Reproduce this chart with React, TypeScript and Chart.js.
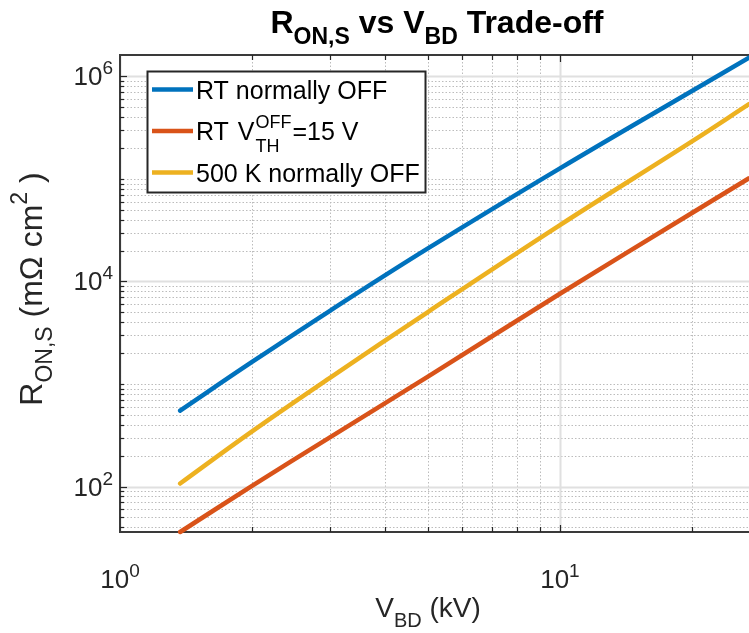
import { useEffect, useRef } from "react";
import { Chart, registerables } from "chart.js";

Chart.register(...registerables);

// Breakdown voltage (kV)
const vbd = [1.37, 2, 3, 5, 10, 20, 26.9];
// Specific on-resistance (mOhm cm^2)
const rtNormallyOff = [550, 1650, 5180, 20900, 127000, 726000, 1524000];
const rtVth15 = [36, 102, 302, 1175, 7590, 46800, 101600];
const hot500K = [107, 347, 1148, 5010, 35500, 234000, 537000];

const seriesColors = ["#0072BD", "#D95319", "#EDB120"];

// Axis limits
const xMin = 1;
const xMax = 26.9;
const yMin = 36;
const yMax = 1.62e6;

// Labelled decades: 10^exp
const xTickExps = [0, 1];
const yTickExps = [2, 4, 6];

const FONT = '"Liberation Sans", Arial, Helvetica, sans-serif';

type Seg = { t: string; s: number; dy?: number; sub?: string; subDy?: number; gap?: number };

function segWidth(ctx: CanvasRenderingContext2D, seg: Seg, weight: string) {
  ctx.font = `${weight} ${seg.s}px ${FONT}`;
  let w = ctx.measureText(seg.t).width;
  if (seg.sub) w = Math.max(w, ctx.measureText(seg.sub).width);
  return w + (seg.gap || 0);
}

function drawRich(
  ctx: CanvasRenderingContext2D,
  segs: Seg[],
  x: number,
  y: number,
  align: "left" | "center" | "right",
  weight: string,
  color: string
) {
  const widths = segs.map((s) => segWidth(ctx, s, weight));
  const total = widths.reduce((a, b) => a + b, 0);
  let cx = align === "left" ? x : align === "center" ? x - total / 2 : x - total;
  ctx.fillStyle = color;
  ctx.textAlign = "left";
  ctx.textBaseline = "alphabetic";
  segs.forEach((s, i) => {
    ctx.font = `${weight} ${s.s}px ${FONT}`;
    const px = cx + (s.gap || 0);
    ctx.fillText(s.t, px, y + (s.dy || 0));
    if (s.sub) ctx.fillText(s.sub, px, y + (s.subDy || 0));
    cx += widths[i];
  });
}

const matlabAxes = {
  id: "matlabAxes",
  beforeDatasetsDraw(chart: any) {
    const { ctx, chartArea: a, scales } = chart;
    const xs = scales.x;
    const ys = scales.y;
    ctx.save();

    const drawV = (v: number) => {
      const px = Math.round(xs.getPixelForValue(v)) + 0.5;
      ctx.beginPath();
      ctx.moveTo(px, a.top);
      ctx.lineTo(px, a.bottom);
      ctx.stroke();
    };
    const drawH = (v: number) => {
      const py = Math.round(ys.getPixelForValue(v)) + 0.5;
      ctx.beginPath();
      ctx.moveTo(a.left, py);
      ctx.lineTo(a.right, py);
      ctx.stroke();
    };

    const xVals: { v: number; major: boolean }[] = [];
    for (let e = 0; e <= 2; e++) {
      for (let k = 1; k <= 9; k++) {
        const v = k * Math.pow(10, e);
        if (v >= xMin && v <= xMax) xVals.push({ v, major: k === 1 && xTickExps.includes(e) });
      }
    }
    const yVals: { v: number; major: boolean }[] = [];
    for (let e = 1; e <= 6; e++) {
      for (let k = 1; k <= 9; k++) {
        const v = k * Math.pow(10, e);
        if (v >= yMin && v <= yMax) yVals.push({ v, major: k === 1 && yTickExps.includes(e) });
      }
    }

    // minor grid (dotted)
    ctx.strokeStyle = "#bcbcbc";
    ctx.lineWidth = 1;
    ctx.setLineDash([1.5, 2]);
    xVals.filter((g) => !g.major).forEach((g) => drawV(g.v));
    yVals.filter((g) => !g.major).forEach((g) => drawH(g.v));

    // major grid (solid, light)
    ctx.setLineDash([]);
    ctx.strokeStyle = "#e0e0e0";
    ctx.lineWidth = 2;
    xVals.filter((g) => g.major).forEach((g) => drawV(g.v));
    yVals.filter((g) => g.major).forEach((g) => drawH(g.v));

    // axis box: top, left, bottom
    ctx.strokeStyle = "#3a3a3a";
    ctx.lineWidth = 2;
    ctx.beginPath();
    ctx.moveTo(a.right, a.top);
    ctx.lineTo(a.left, a.top);
    ctx.lineTo(a.left, a.bottom);
    ctx.lineTo(a.right, a.bottom);
    ctx.stroke();

    // inward tick marks
    ctx.lineWidth = 1.2;
    ctx.strokeStyle = "#262626";
    yVals.forEach((g) => {
      const py = Math.round(ys.getPixelForValue(g.v)) + 0.5;
      const len = g.major ? 7 : 4;
      ctx.beginPath();
      ctx.moveTo(a.left, py);
      ctx.lineTo(a.left + len, py);
      ctx.stroke();
    });
    xVals.forEach((g) => {
      if (g.v === xMin) return;
      const px = Math.round(xs.getPixelForValue(g.v)) + 0.5;
      const len = g.major ? 7 : 5;
      ctx.beginPath();
      ctx.moveTo(px, a.bottom);
      ctx.lineTo(px, a.bottom - len);
      ctx.moveTo(px, a.top);
      ctx.lineTo(px, a.top + len);
      ctx.stroke();
    });
    ctx.restore();
  },
  afterDatasetsDraw(chart: any) {
    const { ctx, chartArea: a, scales } = chart;
    const xs = scales.x;
    const ys = scales.y;
    ctx.save();
    const tickColor = "#262626";

    // tick labels 10^n
    yTickExps.forEach((e) => {
      const py = ys.getPixelForValue(Math.pow(10, e));
      drawRich(
        ctx,
        [
          { t: "10", s: 26 },
          { t: String(e), s: 19, dy: -11 },
        ],
        a.left - 7,
        py + 9,
        "right",
        "normal",
        tickColor
      );
    });
    xTickExps.forEach((e) => {
      const px = xs.getPixelForValue(Math.pow(10, e));
      drawRich(
        ctx,
        [
          { t: "10", s: 26 },
          { t: String(e), s: 19, dy: -11 },
        ],
        px,
        a.bottom + 56,
        "center",
        "normal",
        tickColor
      );
    });

    // axis titles
    drawRich(
      ctx,
      [
        { t: "V", s: 28 },
        { t: "BD", s: 20, dy: 10 },
        { t: " (kV)", s: 28 },
      ],
      428,
      617,
      "center",
      "normal",
      tickColor
    );
    ctx.save();
    ctx.translate(42, 289);
    ctx.rotate(-Math.PI / 2);
    drawRich(
      ctx,
      [
        { t: "R", s: 32 },
        { t: "ON,S", s: 23, dy: 10 },
        { t: " (m\u03A9 cm", s: 32 },
        { t: "2", s: 23, dy: -15 },
        { t: " )", s: 32 },
      ],
      0,
      0,
      "center",
      "normal",
      tickColor
    );
    ctx.restore();

    // title
    drawRich(
      ctx,
      [
        { t: "R", s: 32 },
        { t: "ON,S", s: 23, dy: 11 },
        { t: " vs V", s: 32 },
        { t: "BD", s: 23, dy: 11 },
        { t: " Trade-off", s: 32 },
      ],
      437,
      33,
      "center",
      "bold",
      "#000000"
    );

    // legend
    const lx = 147.5;
    const ly = 71.5;
    const lw = 278;
    const lh = 121;
    ctx.fillStyle = "#ffffff";
    ctx.fillRect(lx, ly, lw, lh);
    ctx.strokeStyle = "#262626";
    ctx.lineWidth = 2;
    ctx.strokeRect(lx, ly, lw, lh);
    const rowY = [89.5, 131, 172.5];
    const labels: Seg[][] = [
      [{ t: "RT normally OFF", s: 25 }],
      [
        { t: "RT ", s: 25 },
        { t: "V", s: 25, gap: 2 },
        { t: "OFF", s: 18, dy: -12, sub: "TH", subDy: 12, gap: 1 },
        { t: "=15 V", s: 25, gap: 1 },
      ],
      [{ t: "500 K normally OFF", s: 25 }],
    ];
    rowY.forEach((ry, i) => {
      ctx.strokeStyle = seriesColors[i];
      ctx.lineWidth = 4.5;
      ctx.lineCap = "butt";
      ctx.beginPath();
      ctx.moveTo(152, ry);
      ctx.lineTo(193, ry);
      ctx.stroke();
      drawRich(ctx, labels[i], 196, ry + 9, "left", "normal", "#000000");
    });
    ctx.restore();
  },
};

export default function App() {
  const ref = useRef<HTMLCanvasElement | null>(null);

  useEffect(() => {
    if (!ref.current) return;
    const mk = (ys: number[]) => vbd.map((x, i) => ({ x, y: ys[i] }));
    const common = {
      borderWidth: 4.5,
      pointRadius: 0,
      fill: false,
      tension: 0.4,
      borderCapStyle: "round" as const,
      clip: false as any,
    };
    const chart = new Chart(ref.current, {
      type: "line",
      data: {
        datasets: [
          { label: "RT normally OFF", data: mk(rtNormallyOff), borderColor: seriesColors[0], ...common },
          { label: "RT V_TH^OFF=15 V", data: mk(rtVth15), borderColor: seriesColors[1], ...common },
          { label: "500 K normally OFF", data: mk(hot500K), borderColor: seriesColors[2], ...common },
        ],
      },
      options: {
        responsive: false,
        maintainAspectRatio: false,
        devicePixelRatio: 1,
        animation: false,
        events: [],
        layout: { padding: { left: 120, top: 55, right: 0, bottom: 101 } },
        plugins: { legend: { display: false }, tooltip: { enabled: false }, title: { display: false } },
        scales: {
          x: {
            type: "logarithmic",
            min: xMin,
            max: xMax,
            ticks: { display: false },
            grid: { display: false, drawTicks: false },
            border: { display: false },
            afterFit: (s: any) => {
              s.height = 0;
            },
          },
          y: {
            type: "logarithmic",
            min: yMin,
            max: yMax,
            ticks: { display: false },
            grid: { display: false, drawTicks: false },
            border: { display: false },
            afterFit: (s: any) => {
              s.width = 0;
            },
          },
        },
      },
      plugins: [matlabAxes],
    });
    return () => chart.destroy();
  }, []);

  return (
    <div style={{ position: "absolute", left: 0, top: 0, width: 749, height: 633, background: "#ffffff" }}>
      <canvas ref={ref} width={749} height={633} style={{ display: "block" }} />
    </div>
  );
}
